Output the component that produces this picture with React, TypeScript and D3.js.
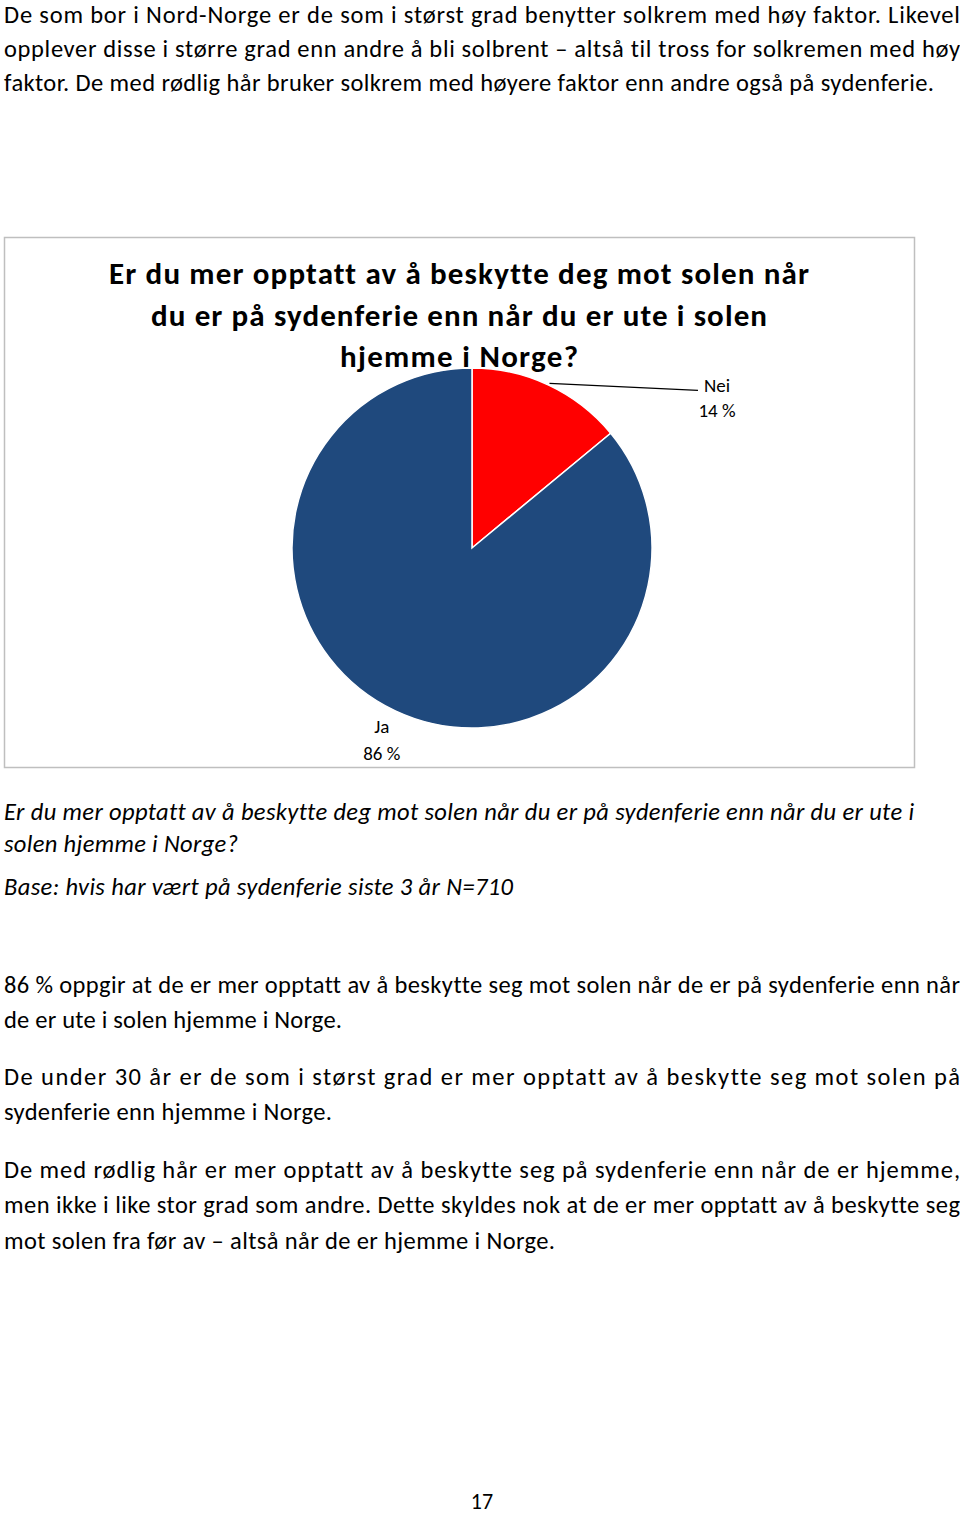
import React from "react";
import * as d3 from "d3";

const categories = ["Nei", "Ja"];
const values = [14, 86];
const colors = ["#FF0000", "#1F497D"];

const titleLines = [
  "Er du mer opptatt av å beskytte deg mot solen når",
  "du er på sydenferie enn når du er ute i solen",
  "hjemme i Norge?",
];

const para1 = [
  "De som bor i Nord-Norge er de som i størst grad benytter solkrem med høy faktor. Likevel",
  "opplever disse i større grad enn andre å bli solbrent – altså til tross for solkremen med høy",
  "faktor. De med rødlig hår bruker solkrem med høyere faktor enn andre også på sydenferie.",
];
const caption = [
  "Er du mer opptatt av å beskytte deg mot solen når du er på sydenferie enn når du er ute i",
  "solen hjemme i Norge?",
];
const baseLine = ["Base: hvis har vært på sydenferie siste 3 år N=710"];
const para2 = [
  "86 % oppgir at de er mer opptatt av å beskytte seg mot solen når de er på sydenferie enn når",
  "de er ute i solen hjemme i Norge.",
];
const para3 = [
  "De under 30 år er de som i størst grad er mer opptatt av å beskytte seg mot solen på",
  "sydenferie enn hjemme i Norge.",
];
const para4 = [
  "De med rødlig hår er mer opptatt av å beskytte seg på sydenferie enn når de er hjemme,",
  "men ikke i like stor grad som andre. Dette skyldes nok at de er mer opptatt av å beskytte seg",
  "mot solen fra før av – altså når de er hjemme i Norge.",
];
const pageNumber = "17";

const FONT = "Carlito, Calibri, Lato, sans-serif";

type Block = { lines: string[]; baselines: number[]; widths: number[]; italic?: boolean };

const blocks: Block[] = [
  { lines: para1, baselines: [22.5, 56.5, 91], widths: [956, 956, 930] },
  { lines: caption, baselines: [820, 852], widths: [910, 234], italic: true },
  { lines: baseLine, baselines: [895], widths: [509], italic: true },
  { lines: para2, baselines: [993, 1028], widths: [956, 338] },
  { lines: para3, baselines: [1085, 1120], widths: [956, 328] },
  { lines: para4, baselines: [1178, 1213, 1249], widths: [956, 956, 551] },
];

const noLig: React.CSSProperties = { fontVariantLigatures: "none", fontKerning: "normal" };

export default function App() {
  const cx = 472;
  const cy = 548;
  const r = 180;
  const pie = d3
    .pie<number>()
    .sort(null)
    .value((d) => d)
    .startAngle(0)
    .endAngle(2 * Math.PI);
  const arcs = pie(values);
  const arcGen = d3.arc<d3.PieArcDatum<number>>().innerRadius(0).outerRadius(r);
  const mid = (a: d3.PieArcDatum<number>) => (a.startAngle + a.endAngle) / 2;
  const pt = (ang: number, rad: number) => [cx + rad * Math.sin(ang), cy - rad * Math.cos(ang)];

  const neiArc = arcs[0];
  const jaArc = arcs[1];
  const [lx1, ly1] = pt(mid(neiArc), r + 2);
  const neiLabelX = 717;
  const lx2 = neiLabelX - 19;
  const ly2 = ly1 + 7;
  const [jx] = pt(mid(jaArc), 212);

  const titleBaselines = [284, 326, 367];
  const titleWidths = [700, 616, 238];

  return (
    <svg
      width={960}
      height={1515}
      style={{ position: "absolute", left: 0, top: 0, background: "#fff" }}
      fontFamily={FONT}
    >
      <rect x={0} y={0} width={960} height={1515} fill="#fff" />
      {blocks.map((b, bi) =>
        b.lines.map((l, li) => (
          <text
            key={`${bi}-${li}`}
            x={4}
            y={b.baselines[li]}
            fontSize={24.5}
            fontStyle={b.italic ? "italic" : "normal"}
            fill="#000"
            textLength={b.widths[li]}
            lengthAdjust="spacing"
            style={noLig}
          >
            {l}
          </text>
        ))
      )}

      <rect x={4.5} y={237.5} width={910} height={530} fill="#fff" stroke="#bfbfbf" strokeWidth={1.5} />
      {titleLines.map((t, i) => (
        <text
          key={t}
          x={459}
          y={titleBaselines[i]}
          fontSize={31}
          fontWeight="bold"
          textAnchor="middle"
          textLength={titleWidths[i]}
          lengthAdjust="spacing"
          style={noLig}
        >
          {t}
        </text>
      ))}

      <g transform={`translate(${cx},${cy})`}>
        {arcs.map((a, i) => (
          <path key={categories[i]} d={arcGen(a) || ""} fill={colors[i]} stroke="#fff" strokeWidth={1.5} />
        ))}
      </g>

      <line x1={lx1} y1={ly1} x2={lx2} y2={ly2} stroke="#000" strokeWidth={1.3} />
      <text x={neiLabelX} y={392} fontSize={19} textAnchor="middle">
        {categories[0]}
      </text>
      <text x={neiLabelX} y={417} fontSize={19} textAnchor="middle">
        {`${values[0]} %`}
      </text>
      <text x={jx} y={733} fontSize={19} textAnchor="middle">
        {categories[1]}
      </text>
      <text x={jx} y={760} fontSize={19} textAnchor="middle">
        {`${values[1]} %`}
      </text>

      <text x={482} y={1509} fontSize={22} textAnchor="middle">
        {pageNumber}
      </text>
    </svg>
  );
}
